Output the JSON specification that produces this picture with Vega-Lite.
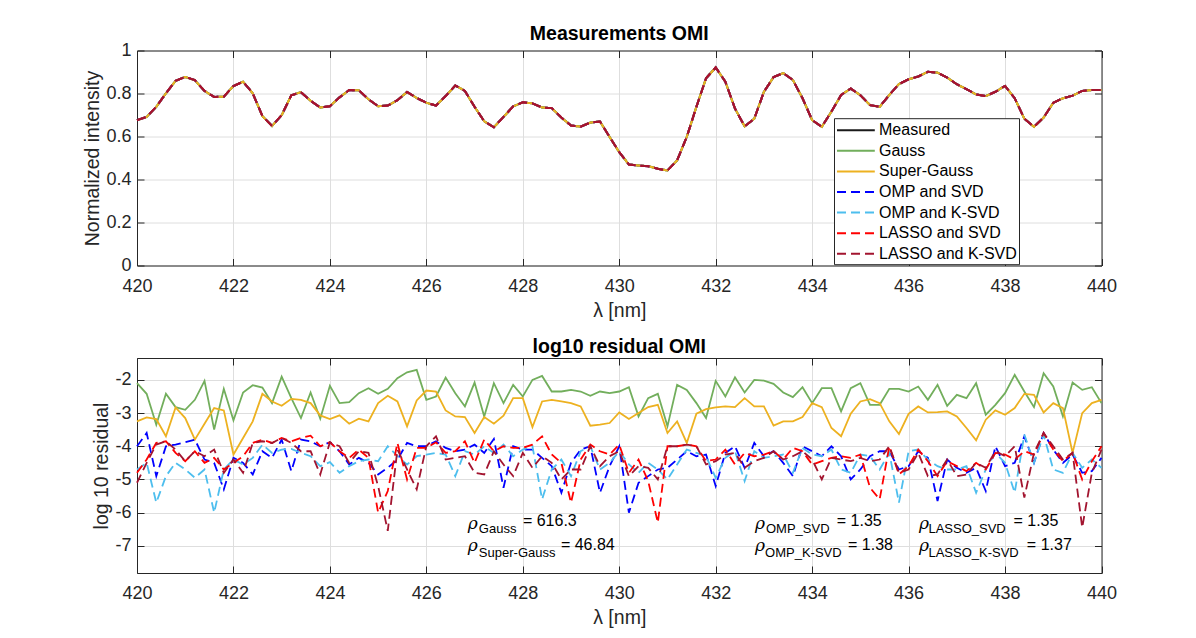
{
  "$schema": "https://vega.github.io/schema/vega-lite/v6.json",
  "background": "white",
  "padding": {"left": 82, "top": 23.5, "right": 0, "bottom": 0},
  "spacing": 15.5,
  "config": {
    "font": "Liberation Sans",
    "view": {"stroke": null},
    "axis": {
      "labelFont": "Liberation Sans",
      "labelFontSize": 18,
      "labelColor": "#262626",
      "titleFont": "Liberation Sans",
      "titleFontSize": 19.5,
      "titleFontWeight": "normal",
      "titleColor": "#262626",
      "domainColor": "#262626",
      "tickColor": "#262626",
      "tickSize": -7,
      "gridColor": "#dedede",
      "labelFlush": false,
      "labelOverlap": false
    },
    "title": {"font": "Liberation Sans", "fontSize": 19.5, "fontWeight": "bold", "color": "black"}
  },
  "datasets": {
    "top": [
      {"x": 420, "I": 0.676}, {"x": 420.2, "I": 0.691}, {"x": 420.4, "I": 0.738}, {"x": 420.6, "I": 0.801}, {"x": 420.8, "I": 0.859},
      {"x": 421, "I": 0.877}, {"x": 421.2, "I": 0.862}, {"x": 421.4, "I": 0.812}, {"x": 421.6, "I": 0.784}, {"x": 421.8, "I": 0.785},
      {"x": 422, "I": 0.835}, {"x": 422.2, "I": 0.855}, {"x": 422.4, "I": 0.801}, {"x": 422.6, "I": 0.695}, {"x": 422.8, "I": 0.649},
      {"x": 423, "I": 0.699}, {"x": 423.2, "I": 0.792}, {"x": 423.4, "I": 0.806}, {"x": 423.6, "I": 0.766}, {"x": 423.8, "I": 0.735},
      {"x": 424, "I": 0.741}, {"x": 424.2, "I": 0.782}, {"x": 424.4, "I": 0.816}, {"x": 424.6, "I": 0.815}, {"x": 424.8, "I": 0.773},
      {"x": 425, "I": 0.741}, {"x": 425.2, "I": 0.744}, {"x": 425.4, "I": 0.769}, {"x": 425.6, "I": 0.807}, {"x": 425.8, "I": 0.779},
      {"x": 426, "I": 0.757}, {"x": 426.2, "I": 0.744}, {"x": 426.4, "I": 0.788}, {"x": 426.6, "I": 0.837}, {"x": 426.8, "I": 0.812},
      {"x": 427, "I": 0.738}, {"x": 427.2, "I": 0.671}, {"x": 427.4, "I": 0.643}, {"x": 427.6, "I": 0.691}, {"x": 427.8, "I": 0.74},
      {"x": 428, "I": 0.759}, {"x": 428.2, "I": 0.754}, {"x": 428.4, "I": 0.735}, {"x": 428.6, "I": 0.732}, {"x": 428.8, "I": 0.688},
      {"x": 429, "I": 0.651}, {"x": 429.2, "I": 0.646}, {"x": 429.4, "I": 0.665}, {"x": 429.6, "I": 0.67}, {"x": 429.8, "I": 0.598},
      {"x": 430, "I": 0.527}, {"x": 430.2, "I": 0.47}, {"x": 430.4, "I": 0.465}, {"x": 430.6, "I": 0.462}, {"x": 430.8, "I": 0.45},
      {"x": 431, "I": 0.442}, {"x": 431.2, "I": 0.489}, {"x": 431.4, "I": 0.598}, {"x": 431.6, "I": 0.738}, {"x": 431.8, "I": 0.871},
      {"x": 432, "I": 0.921}, {"x": 432.2, "I": 0.855}, {"x": 432.4, "I": 0.73}, {"x": 432.6, "I": 0.647}, {"x": 432.8, "I": 0.683},
      {"x": 433, "I": 0.808}, {"x": 433.2, "I": 0.876}, {"x": 433.4, "I": 0.895}, {"x": 433.6, "I": 0.863}, {"x": 433.8, "I": 0.778},
      {"x": 434, "I": 0.676}, {"x": 434.2, "I": 0.645}, {"x": 434.4, "I": 0.716}, {"x": 434.6, "I": 0.793}, {"x": 434.8, "I": 0.823},
      {"x": 435, "I": 0.792}, {"x": 435.2, "I": 0.746}, {"x": 435.4, "I": 0.738}, {"x": 435.6, "I": 0.793}, {"x": 435.8, "I": 0.844},
      {"x": 436, "I": 0.866}, {"x": 436.2, "I": 0.879}, {"x": 436.4, "I": 0.901}, {"x": 436.6, "I": 0.897}, {"x": 436.8, "I": 0.874},
      {"x": 437, "I": 0.843}, {"x": 437.2, "I": 0.82}, {"x": 437.4, "I": 0.796}, {"x": 437.6, "I": 0.788}, {"x": 437.8, "I": 0.808},
      {"x": 438, "I": 0.835}, {"x": 438.2, "I": 0.778}, {"x": 438.4, "I": 0.683}, {"x": 438.6, "I": 0.645}, {"x": 438.8, "I": 0.688},
      {"x": 439, "I": 0.757}, {"x": 439.2, "I": 0.778}, {"x": 439.4, "I": 0.79}, {"x": 439.6, "I": 0.812}, {"x": 439.8, "I": 0.816},
      {"x": 440, "I": 0.816}
    ],
    "res": [
      {"x": 420, "g": -2.1, "sg": -3.25, "o": -4.0, "ok": -4.7, "l": -4.8, "lk": -5.1},
      {"x": 420.2, "g": -2.42, "sg": -3.13, "o": -3.6, "ok": -4.5, "l": -4.4, "lk": -4.5},
      {"x": 420.4, "g": -3.35, "sg": -3.18, "o": -4.9, "ok": -5.7, "l": -3.9, "lk": -3.95},
      {"x": 420.6, "g": -2.42, "sg": -3.7, "o": -4.0, "ok": -4.9, "l": -3.85, "lk": -3.85},
      {"x": 420.8, "g": -2.82, "sg": -2.83, "o": -3.95, "ok": -4.5, "l": -4.2, "lk": -4.1},
      {"x": 421, "g": -2.9, "sg": -3.15, "o": -3.88, "ok": -4.7, "l": -4.45, "lk": -4.45},
      {"x": 421.2, "g": -2.6, "sg": -3.8, "o": -3.8, "ok": -4.95, "l": -4.15, "lk": -4.15},
      {"x": 421.4, "g": -2.03, "sg": -3.32, "o": -4.4, "ok": -4.7, "l": -4.5, "lk": -4.3},
      {"x": 421.6, "g": -3.5, "sg": -2.85, "o": -4.5, "ok": -6.0, "l": -4.35, "lk": -4.1},
      {"x": 421.8, "g": -2.27, "sg": -2.92, "o": -5.3, "ok": -4.7, "l": -4.7, "lk": -4.8},
      {"x": 422, "g": -3.22, "sg": -4.25, "o": -4.35, "ok": -4.4, "l": -4.5, "lk": -4.4},
      {"x": 422.2, "g": -2.38, "sg": -3.75, "o": -4.5, "ok": -4.55, "l": -4.3, "lk": -4.8},
      {"x": 422.4, "g": -2.16, "sg": -3.25, "o": -4.85, "ok": -4.35, "l": -3.9, "lk": -3.9},
      {"x": 422.6, "g": -2.23, "sg": -2.42, "o": -4.15, "ok": -3.95, "l": -3.8, "lk": -3.85},
      {"x": 422.8, "g": -2.7, "sg": -2.65, "o": -4.35, "ok": -4.2, "l": -3.9, "lk": -3.9},
      {"x": 423, "g": -1.9, "sg": -2.78, "o": -3.8, "ok": -4.1, "l": -3.75, "lk": -3.75},
      {"x": 423.2, "g": -2.55, "sg": -2.57, "o": -4.75, "ok": -4.08, "l": -3.85, "lk": -3.9},
      {"x": 423.4, "g": -3.15, "sg": -2.6, "o": -3.8, "ok": -4.2, "l": -3.75, "lk": -4.15},
      {"x": 423.6, "g": -2.38, "sg": -2.7, "o": -3.85, "ok": -4.3, "l": -3.68, "lk": -4.15},
      {"x": 423.8, "g": -3.17, "sg": -3.07, "o": -4.0, "ok": -4.6, "l": -4.0, "lk": -4.85},
      {"x": 424, "g": -2.18, "sg": -3.18, "o": -3.88, "ok": -4.48, "l": -3.88, "lk": -3.88},
      {"x": 424.2, "g": -2.7, "sg": -3.07, "o": -4.15, "ok": -4.8, "l": -4.15, "lk": -4.0},
      {"x": 424.4, "g": -2.67, "sg": -3.32, "o": -4.55, "ok": -4.6, "l": -4.35, "lk": -4.5},
      {"x": 424.6, "g": -2.4, "sg": -3.17, "o": -4.35, "ok": -4.45, "l": -4.1, "lk": -4.15},
      {"x": 424.8, "g": -2.25, "sg": -3.25, "o": -4.5, "ok": -4.4, "l": -4.35, "lk": -4.2},
      {"x": 425, "g": -2.42, "sg": -2.7, "o": -4.85, "ok": -4.45, "l": -6.0, "lk": -5.2},
      {"x": 425.2, "g": -2.27, "sg": -2.48, "o": -4.65, "ok": -4.0, "l": -5.35, "lk": -6.55},
      {"x": 425.4, "g": -1.95, "sg": -2.65, "o": -4.4, "ok": -4.3, "l": -3.9, "lk": -4.1},
      {"x": 425.6, "g": -1.77, "sg": -3.4, "o": -3.9, "ok": -4.55, "l": -5.0, "lk": -4.7},
      {"x": 425.8, "g": -1.7, "sg": -2.62, "o": -4.0, "ok": -4.3, "l": -4.05, "lk": -5.3},
      {"x": 426, "g": -2.6, "sg": -2.32, "o": -4.0, "ok": -4.25, "l": -4.05, "lk": -4.0},
      {"x": 426.2, "g": -2.5, "sg": -2.35, "o": -3.85, "ok": -4.2, "l": -3.88, "lk": -3.7},
      {"x": 426.4, "g": -1.93, "sg": -2.92, "o": -4.05, "ok": -4.25, "l": -4.2, "lk": -4.4},
      {"x": 426.6, "g": -2.4, "sg": -3.1, "o": -4.15, "ok": -4.9, "l": -4.15, "lk": -4.35},
      {"x": 426.8, "g": -2.8, "sg": -3.12, "o": -4.1, "ok": -4.15, "l": -3.85, "lk": -4.3},
      {"x": 427, "g": -2.08, "sg": -3.6, "o": -3.95, "ok": -4.25, "l": -4.5, "lk": -4.8},
      {"x": 427.2, "g": -3.1, "sg": -3.12, "o": -4.2, "ok": -4.0, "l": -3.8, "lk": -4.85},
      {"x": 427.4, "g": -2.1, "sg": -3.32, "o": -3.78, "ok": -4.2, "l": -4.15, "lk": -4.15},
      {"x": 427.6, "g": -2.7, "sg": -3.08, "o": -5.25, "ok": -3.95, "l": -4.0, "lk": -4.55},
      {"x": 427.8, "g": -2.15, "sg": -2.55, "o": -4.0, "ok": -4.3, "l": -4.05, "lk": -4.9},
      {"x": 428, "g": -2.5, "sg": -2.55, "o": -4.1, "ok": -4.1, "l": -4.05, "lk": -4.2},
      {"x": 428.2, "g": -2.0, "sg": -3.42, "o": -4.1, "ok": -4.0, "l": -3.95, "lk": -4.65},
      {"x": 428.4, "g": -1.88, "sg": -2.65, "o": -4.35, "ok": -5.6, "l": -3.7, "lk": -4.3},
      {"x": 428.6, "g": -2.35, "sg": -2.6, "o": -4.6, "ok": -4.7, "l": -4.25, "lk": -4.5},
      {"x": 428.8, "g": -2.35, "sg": -2.65, "o": -5.4, "ok": -4.4, "l": -4.5, "lk": -5.0},
      {"x": 429, "g": -2.3, "sg": -2.7, "o": -4.5, "ok": -4.9, "l": -5.7, "lk": -4.7},
      {"x": 429.2, "g": -2.35, "sg": -2.8, "o": -4.1, "ok": -4.15, "l": -4.4, "lk": -4.7},
      {"x": 429.4, "g": -2.48, "sg": -3.38, "o": -4.0, "ok": -4.0, "l": -3.95, "lk": -4.0},
      {"x": 429.6, "g": -2.35, "sg": -3.35, "o": -5.4, "ok": -4.7, "l": -4.15, "lk": -4.6},
      {"x": 429.8, "g": -2.4, "sg": -3.3, "o": -4.6, "ok": -4.5, "l": -4.25, "lk": -4.3},
      {"x": 430, "g": -2.35, "sg": -2.98, "o": -4.0, "ok": -4.15, "l": -3.95, "lk": -4.15},
      {"x": 430.2, "g": -2.22, "sg": -3.18, "o": -6.0, "ok": -4.55, "l": -4.8, "lk": -4.9},
      {"x": 430.4, "g": -3.1, "sg": -3.0, "o": -5.1, "ok": -4.8, "l": -4.4, "lk": -4.6},
      {"x": 430.6, "g": -2.55, "sg": -2.82, "o": -4.9, "ok": -4.5, "l": -5.05, "lk": -4.65},
      {"x": 430.8, "g": -2.42, "sg": -2.75, "o": -4.7, "ok": -4.7, "l": -6.3, "lk": -5.0},
      {"x": 431, "g": -3.4, "sg": -3.6, "o": -4.65, "ok": -5.0, "l": -4.0, "lk": -4.0},
      {"x": 431.2, "g": -2.15, "sg": -3.25, "o": -4.4, "ok": -4.55, "l": -4.0, "lk": -4.0},
      {"x": 431.4, "g": -2.3, "sg": -3.9, "o": -4.15, "ok": -4.1, "l": -3.95, "lk": -3.95},
      {"x": 431.6, "g": -2.7, "sg": -3.02, "o": -4.3, "ok": -4.2, "l": -4.0, "lk": -4.0},
      {"x": 431.8, "g": -3.15, "sg": -2.88, "o": -4.25, "ok": -4.3, "l": -4.45, "lk": -4.55},
      {"x": 432, "g": -2.03, "sg": -2.83, "o": -5.2, "ok": -4.95, "l": -4.4, "lk": -4.45},
      {"x": 432.2, "g": -2.5, "sg": -2.8, "o": -4.2, "ok": -4.35, "l": -4.1, "lk": -4.25},
      {"x": 432.4, "g": -1.92, "sg": -2.82, "o": -4.0, "ok": -4.15, "l": -4.55, "lk": -4.2},
      {"x": 432.6, "g": -2.38, "sg": -2.55, "o": -4.65, "ok": -5.05, "l": -4.2, "lk": -4.65},
      {"x": 432.8, "g": -2.0, "sg": -2.8, "o": -3.9, "ok": -4.15, "l": -4.3, "lk": -4.45},
      {"x": 433, "g": -2.02, "sg": -2.8, "o": -4.3, "ok": -4.35, "l": -4.25, "lk": -4.35},
      {"x": 433.2, "g": -2.12, "sg": -3.38, "o": -4.15, "ok": -4.3, "l": -4.15, "lk": -4.15},
      {"x": 433.4, "g": -2.38, "sg": -3.25, "o": -4.5, "ok": -4.25, "l": -4.4, "lk": -4.4},
      {"x": 433.6, "g": -2.52, "sg": -3.25, "o": -4.9, "ok": -4.8, "l": -4.05, "lk": -4.3},
      {"x": 433.8, "g": -2.22, "sg": -3.12, "o": -4.0, "ok": -4.05, "l": -4.15, "lk": -4.15},
      {"x": 434, "g": -2.7, "sg": -2.7, "o": -4.15, "ok": -4.25, "l": -4.55, "lk": -4.4},
      {"x": 434.2, "g": -2.25, "sg": -2.82, "o": -4.3, "ok": -4.3, "l": -4.45, "lk": -5.0},
      {"x": 434.4, "g": -2.25, "sg": -3.45, "o": -4.0, "ok": -4.1, "l": -4.35, "lk": -4.35},
      {"x": 434.6, "g": -2.95, "sg": -3.7, "o": -4.3, "ok": -4.7, "l": -4.3, "lk": -4.4},
      {"x": 434.8, "g": -2.25, "sg": -3.02, "o": -5.0, "ok": -4.8, "l": -4.35, "lk": -4.45},
      {"x": 435, "g": -2.1, "sg": -2.65, "o": -4.7, "ok": -4.25, "l": -4.25, "lk": -4.35},
      {"x": 435.2, "g": -2.75, "sg": -2.58, "o": -4.3, "ok": -4.3, "l": -5.25, "lk": -4.45},
      {"x": 435.4, "g": -2.75, "sg": -2.7, "o": -4.15, "ok": -4.7, "l": -5.6, "lk": -4.4},
      {"x": 435.6, "g": -2.27, "sg": -3.25, "o": -4.15, "ok": -4.2, "l": -4.0, "lk": -4.0},
      {"x": 435.8, "g": -2.27, "sg": -3.63, "o": -4.7, "ok": -5.7, "l": -4.85, "lk": -4.8},
      {"x": 436, "g": -2.35, "sg": -3.02, "o": -4.6, "ok": -4.15, "l": -4.6, "lk": -4.7},
      {"x": 436.2, "g": -2.2, "sg": -2.8, "o": -4.15, "ok": -4.1, "l": -4.1, "lk": -4.2},
      {"x": 436.4, "g": -2.6, "sg": -2.98, "o": -4.35, "ok": -4.4, "l": -4.45, "lk": -4.9},
      {"x": 436.6, "g": -2.15, "sg": -2.97, "o": -5.65, "ok": -4.6, "l": -4.9, "lk": -4.85},
      {"x": 436.8, "g": -2.78, "sg": -2.95, "o": -4.4, "ok": -4.7, "l": -4.45, "lk": -4.4},
      {"x": 437, "g": -2.45, "sg": -3.1, "o": -4.65, "ok": -4.7, "l": -4.6, "lk": -4.9},
      {"x": 437.2, "g": -2.55, "sg": -3.45, "o": -4.8, "ok": -4.6, "l": -4.75, "lk": -4.85},
      {"x": 437.4, "g": -2.1, "sg": -3.82, "o": -4.65, "ok": -5.4, "l": -4.5, "lk": -4.5},
      {"x": 437.6, "g": -3.05, "sg": -3.2, "o": -5.35, "ok": -4.7, "l": -4.7, "lk": -4.65},
      {"x": 437.8, "g": -2.75, "sg": -2.92, "o": -4.0, "ok": -4.2, "l": -4.2, "lk": -4.15},
      {"x": 438, "g": -2.4, "sg": -3.05, "o": -4.6, "ok": -4.5, "l": -4.25, "lk": -4.3},
      {"x": 438.2, "g": -1.85, "sg": -2.85, "o": -4.5, "ok": -5.4, "l": -4.4, "lk": -4.0},
      {"x": 438.4, "g": -2.35, "sg": -2.42, "o": -3.7, "ok": -3.65, "l": -4.15, "lk": -5.55},
      {"x": 438.6, "g": -2.82, "sg": -2.45, "o": -4.5, "ok": -4.5, "l": -4.25, "lk": -4.2},
      {"x": 438.8, "g": -1.8, "sg": -2.98, "o": -3.6, "ok": -3.65, "l": -3.6, "lk": -3.6},
      {"x": 439, "g": -2.2, "sg": -2.7, "o": -4.1, "ok": -4.7, "l": -4.1, "lk": -4.0},
      {"x": 439.2, "g": -3.1, "sg": -2.85, "o": -4.5, "ok": -4.8, "l": -4.45, "lk": -4.4},
      {"x": 439.4, "g": -2.08, "sg": -4.2, "o": -4.25, "ok": -4.2, "l": -4.2, "lk": -4.2},
      {"x": 439.6, "g": -2.3, "sg": -3.0, "o": -4.8, "ok": -4.65, "l": -5.0, "lk": -6.45},
      {"x": 439.8, "g": -2.22, "sg": -2.7, "o": -4.75, "ok": -4.4, "l": -4.45, "lk": -4.8},
      {"x": 440, "g": -2.7, "sg": -2.6, "o": -4.35, "ok": -4.65, "l": -4.0, "lk": -4.1}
    ],
    "ann": [
      {"x": 426.861, "y": -6.48, "t": "ρ", "k": "r"},
      {"x": 427.089, "y": -6.601, "t": "Gauss", "k": "s"},
      {"x": 428.002, "y": -6.39, "t": "= 616.3", "k": "e"},
      {"x": 426.861, "y": -7.171, "t": "ρ", "k": "r"},
      {"x": 427.089, "y": -7.336, "t": "Super-Gauss", "k": "s"},
      {"x": 428.79, "y": -7.126, "t": "= 46.84", "k": "e"},
      {"x": 432.815, "y": -6.48, "t": "ρ", "k": "r"},
      {"x": 433.043, "y": -6.601, "t": "OMP_SVD", "k": "s"},
      {"x": 434.51, "y": -6.39, "t": "= 1.35", "k": "e"},
      {"x": 432.815, "y": -7.171, "t": "ρ", "k": "r"},
      {"x": 433.023, "y": -7.336, "t": "OMP_K-SVD", "k": "s"},
      {"x": 434.745, "y": -7.126, "t": "= 1.38", "k": "e"},
      {"x": 436.218, "y": -6.48, "t": "ρ", "k": "r"},
      {"x": 436.411, "y": -6.601, "t": "LASSO_SVD", "k": "s"},
      {"x": 438.174, "y": -6.39, "t": "= 1.35", "k": "e"},
      {"x": 436.218, "y": -7.171, "t": "ρ", "k": "r"},
      {"x": 436.411, "y": -7.336, "t": "LASSO_K-SVD", "k": "s"},
      {"x": 438.452, "y": -7.126, "t": "= 1.37", "k": "e"}
    ]
  },
  "resolve": {
    "scale": {"color": "independent", "strokeDash": "independent"},
    "legend": {"color": "independent", "strokeDash": "independent"}
  },
  "vconcat": [
    {
      "width": 964.5,
      "height": 215,
      "title": {"text": "Measurements OMI", "offset": -2.7},
      "data": {"name": "top"},
      "resolve": {"axis": {"x": "independent", "y": "independent"}},
      "layer": [
        {
          "mark": {"type": "line", "strokeWidth": 2},
          "encoding": {
            "x": {"field": "x", "type": "quantitative", "scale": {"domain": [420, 440], "nice": false, "zero": false},
              "axis": {"orient": "bottom", "values": [420, 422, 424, 426, 428, 430, 432, 434, 436, 438, 440], "grid": true, "title": "λ [nm]", "labelPadding": 18.7, "titlePadding": 6}},
            "y": {"field": "I", "type": "quantitative", "scale": {"domain": [0, 1], "nice": false, "zero": false},
              "axis": {"orient": "left", "values": [0, 0.2, 0.4, 0.6, 0.8, 1], "labelExpr": "'' + datum.value", "grid": true, "title": "Normalized intensity", "labelPadding": 13, "titlePadding": 3.3}},
            "color": {
              "datum": "Measured",
              "scale": {
                "domain": ["Measured", "Gauss", "Super-Gauss", "OMP and SVD", "OMP and K-SVD", "LASSO and SVD", "LASSO and K-SVD"],
                "range": ["#1a1a1a", "#72ae5c", "#edb120", "#0000ff", "#4dbeee", "#ff0000", "#a2142f"]
              },
              "legend": {"orient": "none", "legendX": 697, "legendY": 67.7, "title": null, "strokeColor": "#262626", "fillColor": "white", "padding": 2, "labelFont": "Liberation Sans", "labelFontSize": 16, "labelColor": "black", "labelLimit": 300, "symbolType": "M-1,0H3.2", "symbolSize": 324, "symbolStrokeWidth": 2, "labelOffset": 23, "rowPadding": 2.6}
            },
            "strokeDash": {
              "datum": "Measured",
              "scale": {
                "domain": ["Measured", "Gauss", "Super-Gauss", "OMP and SVD", "OMP and K-SVD", "LASSO and SVD", "LASSO and K-SVD"],
                "range": [[1, 0], [1, 0], [1, 0], [9, 5], [9, 5], [9, 5], [9, 5]]
              },
              "legend": {"orient": "none", "legendX": 697, "legendY": 67.7, "title": null, "strokeColor": "#262626", "fillColor": "white", "padding": 2, "labelFont": "Liberation Sans", "labelFontSize": 16, "labelColor": "black", "labelLimit": 300, "symbolType": "M-1,0H3.2", "symbolSize": 324, "symbolStrokeWidth": 2, "labelOffset": 23, "rowPadding": 2.6}
            }
          }
        },
        {
          "mark": {"type": "line", "strokeWidth": 2},
          "encoding": {
            "x": {"field": "x", "type": "quantitative", "axis": {"orient": "top", "values": [420, 422, 424, 426, 428, 430, 432, 434, 436, 438, 440], "labels": false, "grid": false, "title": null}},
            "y": {"field": "I", "type": "quantitative", "axis": {"orient": "right", "values": [0, 0.2, 0.4, 0.6, 0.8, 1], "labels": false, "grid": false, "title": null}},
            "color": {"datum": "Gauss"},
            "strokeDash": {"datum": "Gauss"}
          }
        },
        {
          "mark": {"type": "line", "strokeWidth": 2},
          "encoding": {
            "x": {"field": "x", "type": "quantitative", "axis": null},
            "y": {"field": "I", "type": "quantitative", "axis": null},
            "color": {"datum": "Super-Gauss"},
            "strokeDash": {"datum": "Super-Gauss"}
          }
        },
        {
          "mark": {"type": "line", "strokeWidth": 2},
          "encoding": {
            "x": {"field": "x", "type": "quantitative", "axis": null},
            "y": {"field": "I", "type": "quantitative", "axis": null},
            "color": {"datum": "OMP and SVD"},
            "strokeDash": {"datum": "OMP and SVD"}
          }
        },
        {
          "mark": {"type": "line", "strokeWidth": 2},
          "encoding": {
            "x": {"field": "x", "type": "quantitative", "axis": null},
            "y": {"field": "I", "type": "quantitative", "axis": null},
            "color": {"datum": "OMP and K-SVD"},
            "strokeDash": {"datum": "OMP and K-SVD"}
          }
        },
        {
          "mark": {"type": "line", "strokeWidth": 2},
          "encoding": {
            "x": {"field": "x", "type": "quantitative", "axis": null},
            "y": {"field": "I", "type": "quantitative", "axis": null},
            "color": {"datum": "LASSO and SVD"},
            "strokeDash": {"datum": "LASSO and SVD"}
          }
        },
        {
          "mark": {"type": "line", "strokeWidth": 2},
          "encoding": {
            "x": {"field": "x", "type": "quantitative", "axis": null},
            "y": {"field": "I", "type": "quantitative", "axis": null},
            "color": {"datum": "LASSO and K-SVD"},
            "strokeDash": {"datum": "LASSO and K-SVD"}
          }
        }
      ]
    },
    {
      "width": 964.5,
      "height": 215,
      "title": {"text": "log10 residual OMI", "offset": 0.3},
      "resolve": {"axis": {"x": "independent", "y": "independent"}},
      "layer": [
        {
          "data": {"name": "res"},
          "mark": {"type": "line", "strokeWidth": 1.8, "color": "#72ae5c"},
          "encoding": {
            "x": {"field": "x", "type": "quantitative", "scale": {"domain": [420, 440], "nice": false, "zero": false},
              "axis": {"orient": "bottom", "values": [420, 422, 424, 426, 428, 430, 432, 434, 436, 438, 440], "grid": true, "title": "λ [nm]", "labelPadding": 18.7, "titlePadding": 6}},
            "y": {"field": "g", "type": "quantitative", "scale": {"domain": [-7.82, -1.34], "nice": false, "zero": false},
              "axis": {"orient": "left", "values": [-7, -6, -5, -4, -3, -2], "labelExpr": "'' + datum.value", "grid": true, "title": "log 10 residual", "labelPadding": 13, "titlePadding": 3.3}}
          }
        },
        {
          "data": {"name": "res"},
          "mark": {"type": "line", "strokeWidth": 1.8, "color": "#edb120"},
          "encoding": {
            "x": {"field": "x", "type": "quantitative", "axis": {"orient": "top", "values": [420, 422, 424, 426, 428, 430, 432, 434, 436, 438, 440], "labels": false, "grid": false, "title": null}},
            "y": {"field": "sg", "type": "quantitative", "axis": {"orient": "right", "values": [-7, -6, -5, -4, -3, -2], "labels": false, "grid": false, "title": null}}
          }
        },
        {
          "data": {"name": "res"},
          "mark": {"type": "line", "strokeWidth": 1.8, "color": "#0000ff", "strokeDash": [9, 5]},
          "encoding": {
            "x": {"field": "x", "type": "quantitative", "axis": null},
            "y": {"field": "o", "type": "quantitative", "axis": null}
          }
        },
        {
          "data": {"name": "res"},
          "mark": {"type": "line", "strokeWidth": 1.8, "color": "#4dbeee", "strokeDash": [9, 5]},
          "encoding": {
            "x": {"field": "x", "type": "quantitative", "axis": null},
            "y": {"field": "ok", "type": "quantitative", "axis": null}
          }
        },
        {
          "data": {"name": "res"},
          "mark": {"type": "line", "strokeWidth": 1.8, "color": "#ff0000", "strokeDash": [9, 5]},
          "encoding": {
            "x": {"field": "x", "type": "quantitative", "axis": null},
            "y": {"field": "l", "type": "quantitative", "axis": null}
          }
        },
        {
          "data": {"name": "res"},
          "mark": {"type": "line", "strokeWidth": 1.8, "color": "#a2142f", "strokeDash": [9, 5]},
          "encoding": {
            "x": {"field": "x", "type": "quantitative", "axis": null},
            "y": {"field": "lk", "type": "quantitative", "axis": null}
          }
        },
        {
          "data": {"name": "ann"},
          "transform": [{"filter": "datum.k == 'r'"}],
          "mark": {"type": "text", "align": "left", "baseline": "alphabetic", "font": "DejaVu Serif", "fontStyle": "italic", "fontSize": 17, "color": "black"},
          "encoding": {
            "x": {"field": "x", "type": "quantitative", "axis": null},
            "y": {"field": "y", "type": "quantitative", "axis": null},
            "text": {"field": "t"}
          }
        },
        {
          "data": {"name": "ann"},
          "transform": [{"filter": "datum.k == 's'"}],
          "mark": {"type": "text", "align": "left", "baseline": "alphabetic", "font": "Liberation Sans", "fontSize": 13, "color": "black"},
          "encoding": {
            "x": {"field": "x", "type": "quantitative", "axis": null},
            "y": {"field": "y", "type": "quantitative", "axis": null},
            "text": {"field": "t"}
          }
        },
        {
          "data": {"name": "ann"},
          "transform": [{"filter": "datum.k == 'e'"}],
          "mark": {"type": "text", "align": "left", "baseline": "alphabetic", "font": "Liberation Sans", "fontSize": 16, "color": "black"},
          "encoding": {
            "x": {"field": "x", "type": "quantitative", "axis": null},
            "y": {"field": "y", "type": "quantitative", "axis": null},
            "text": {"field": "t"}
          }
        }
      ]
    }
  ]
}
